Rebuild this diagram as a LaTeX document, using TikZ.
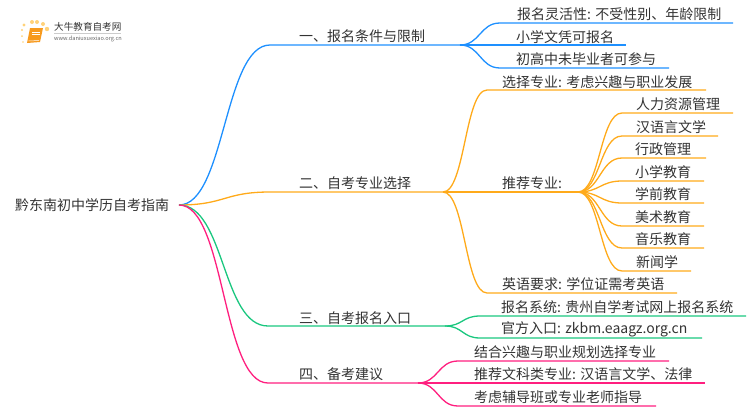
\documentclass[tikz,border=0pt]{standalone}
\usepackage{fontspec}
\setmainfont{Noto Sans CJK SC}
\definecolor{bluebr}{HTML}{1E90FF}
\definecolor{orangebr}{HTML}{FFAA1A}
\definecolor{greenbr}{HTML}{1AC77F}
\definecolor{pinkbr}{HTML}{FF1F7F}
\definecolor{textgray}{HTML}{333333}
\definecolor{bookorange}{HTML}{F79A1E}
\definecolor{dotyellow}{HTML}{FFD27A}
\tikzset{
  label/.style = {inner sep=0pt, text=textgray, font=\fontsize{14}{14}\selectfont},
  link/.style = {out=0, in=180, distance=#1},
  branch/.style = {line width=1.3pt, draw=#1}
}

\begin{document}
\begin{tikzpicture}[x=1pt,y=-1pt]
  \useasboundingbox (0,0) rectangle (750,410);

  % logo
  \foreach \px/\py/\pr in {24/25/1.6, 32/22/2, 37/22/2, 43/24/2, 47/29/2.2, 22/30/1.2, 22/36/1, 23/42/0.8}
    \fill[dotyellow] (\px,\py) circle (\pr);
  \fill[bookorange] (30,28) -- (43,28) -- (40,42) -- (27,43) -- cycle;
  \draw[white, line width=0.6pt] (32,32) -- (40,32) (31.5,34.5) -- (39.5,34.5);
  \draw[white, line width=0.5pt] (28.5,41) -- (39,40.5);
  \node (logotext) at (54,27) [right, inner sep=0pt, text=textgray, font=\fontsize{9.6}{9.6}\selectfont] {大牛教育自考网};
  \node (logourl) at (54,38.5) [right, inner sep=0pt, text=black!60, font=\fontsize{5.6}{5.6}\selectfont] {www.daniuxuexiao.org.cn};
  \draw[black!20, line width=0.5pt] (logotext.south west) ++(0,1.5) -- ++(67,0);

  % root
  \node (root) at (15,205) [right, label] {黔东南初中学历自考指南};
  \coordinate (start) at (179,205);

  % labels
  \node (one) at (299,36) [right, label] {一、报名条件与限制};
  \node (two) at (299,183) [right, label] {二、自考专业选择};
  \node (three) at (299,318) [right, label] {三、自考报名入口};
  \node (four) at (299,374) [right, label] {四、备考建议};

  \node (oneA) at (517,14) [right, label] {报名灵活性: 不受性别、年龄限制};
  \node (oneB) at (516,37) [right, label] {小学文凭可报名};
  \node (oneC) at (516,59) [right, label] {初高中未毕业者可参与};

  \node (twoA) at (502,82) [right, label] {选择专业: 考虑兴趣与职业发展};
  \node (twoB) at (502,183) [right, label] {推荐专业:};
  \node (twoC) at (502,284) [right, label] {英语要求: 学位证需考英语};

  \node (majorA) at (636,104) [right, label] {人力资源管理};
  \node (majorB) at (636,127) [right, label] {汉语言文学};
  \node (majorC) at (635,149) [right, label] {行政管理};
  \node (majorD) at (635,172) [right, label] {小学教育};
  \node (majorE) at (635,194) [right, label] {学前教育};
  \node (majorF) at (635,217) [right, label] {美术教育};
  \node (majorG) at (635,239) [right, label] {音乐教育};
  \node (majorH) at (636,262) [right, label] {新闻学};

  \node (threeA) at (501,307) [right, label] {报名系统: 贵州自学考试网上报名系统};
  \node (threeB) at (501,329) [right, label] {官方入口: zkbm.eaagz.org.cn};

  \node (fourA) at (474,352) [right, label] {结合兴趣与职业规划选择专业};
  \node (fourB) at (474,374) [right, label] {推荐文科类专业: 汉语言文学、法律};
  \node (fourC) at (474,397) [right, label] {考虑辅导班或专业老师指导};

  % blue
  \coordinate (oneIn) at (270,45);
  \coordinate (oneOut) at (460,45);
  \coordinate (oneAin) at (500,23);
  \coordinate (oneAend) at (733,23);
  \coordinate (oneBend) at (626,45);
  \coordinate (oneCin) at (500,68);
  \coordinate (oneCend) at (669,68);
  \draw[branch=bluebr] (start) to[link=46] (oneIn) -- (oneOut);
  \draw[branch=bluebr] (oneOut) to[link=20] (oneAin) -- (oneAend);
  \draw[branch=bluebr] (oneOut) -- (oneBend);
  \draw[branch=bluebr] (oneOut) to[link=20] (oneCin) -- (oneCend);

  % orange
  \coordinate (twoIn) at (270,192);
  \coordinate (twoOut) at (443,192);
  \coordinate (twoAin) at (487,90);
  \coordinate (twoAend) at (706,90);
  \coordinate (twoBout) at (578,192);
  \coordinate (twoCin) at (487,293);
  \coordinate (twoCend) at (677,293);
  \draw[branch=orangebr] (start) to[link=46] (twoIn) -- (twoOut);
  \draw[branch=orangebr] (twoOut) to[link=22] (twoAin) -- (twoAend);
  \draw[branch=orangebr] (twoOut) -- (twoBout);
  \draw[branch=orangebr] (twoOut) to[link=22] (twoCin) -- (twoCend);

  \foreach \m/\y/\xend in {A/113/733, B/136/718, C/158/706, D/181/704, E/203/704, F/226/704, G/248/704, H/271/691} {
    \coordinate (major\m in) at (622,\y);
    \coordinate (major\m end) at (\xend,\y);
    \draw[branch=orangebr] (twoBout) to[link=22] (major\m in) -- (major\m end);
  }

  % green
  \coordinate (threeIn) at (268,326);
  \coordinate (threeOut) at (445,326);
  \coordinate (threeAin) at (480,316);
  \coordinate (threeAend) at (746,316);
  \coordinate (threeBin) at (480,338);
  \coordinate (threeBend) at (702,338);
  \draw[branch=greenbr] (start) to[link=46] (threeIn) -- (threeOut);
  \draw[branch=greenbr] (threeOut) to[link=18] (threeAin) -- (threeAend);
  \draw[branch=greenbr] (threeOut) to[link=18] (threeBin) -- (threeBend);

  % pink
  \coordinate (fourIn) at (268,383);
  \coordinate (fourOut) at (418,383);
  \coordinate (fourAin) at (458,361);
  \coordinate (fourAend) at (669,361);
  \coordinate (fourBend) at (705,383);
  \coordinate (fourCin) at (458,406);
  \coordinate (fourCend) at (656,406);
  \draw[branch=pinkbr] (start) to[link=46] (fourIn) -- (fourOut);
  \draw[branch=pinkbr] (fourOut) to[link=20] (fourAin) -- (fourAend);
  \draw[branch=pinkbr] (fourOut) -- (fourBend);
  \draw[branch=pinkbr] (fourOut) to[link=20] (fourCin) -- (fourCend);
\end{tikzpicture}
\end{document}
